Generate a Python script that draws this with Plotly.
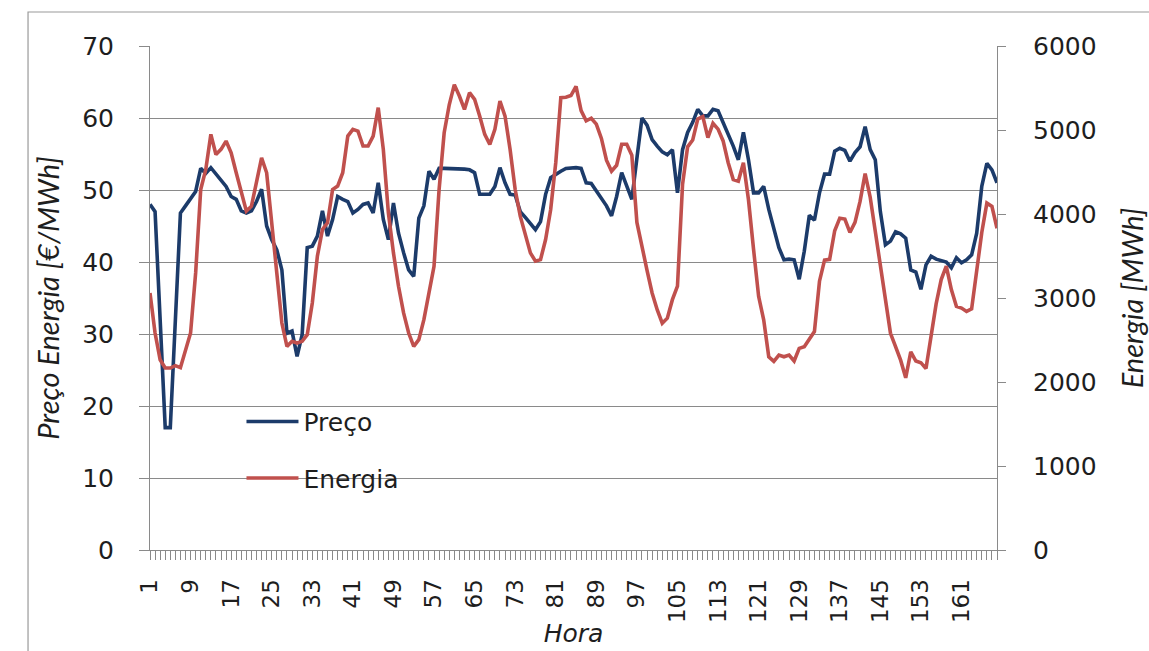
import plotly.graph_objects as go

# Hourly series for one week (168 hours)
horas = list(range(1, 169))

preco = [
    48.0, 47.0, 32.0, 17.0, 17.0, 31.0, 46.8, 47.8, 48.9, 49.8,
    53.0, 52.3, 53.1, 52.2, 51.2, 50.5, 49.1, 48.7, 47.1, 46.8,
    47.1, 48.4, 50.1, 45.0, 43.1, 41.7, 38.9, 30.1, 30.4, 26.9,
    29.9, 42.0, 42.2, 43.6, 47.1, 43.6, 45.9, 49.1, 48.7, 48.4,
    46.8, 47.3, 48.0, 48.2, 46.8, 51.0, 45.9, 43.1, 48.2, 44.0,
    41.3, 38.9, 38.0, 46.1, 47.8, 52.6, 51.5, 53.0, 53.0, 53.0,
    53.0, 52.9, 52.9, 52.8, 52.4, 49.4, 49.4, 49.4, 50.5, 53.1,
    51.0, 49.4, 49.3, 47.0, 46.2, 45.4, 44.5, 45.6, 49.4, 51.7,
    52.2, 52.6, 53.0, 53.1, 53.1, 53.0, 51.0, 50.9, 49.8, 48.9,
    47.8, 46.4, 49.1, 52.4, 50.5, 48.7, 54.4, 60.0, 59.0, 57.0,
    56.1, 55.3, 54.9, 55.6, 49.6, 55.6, 58.0, 59.4, 61.2, 60.3,
    60.3, 61.2, 61.0, 59.4, 57.7, 56.1, 54.2, 58.0, 54.2, 49.6,
    49.6, 50.5, 47.3, 44.8, 42.0, 40.3, 40.4, 40.3, 37.6, 41.5,
    46.5, 45.8, 49.6, 52.2, 52.2, 55.4, 55.8, 55.5, 54.0, 55.2,
    56.0, 58.8, 55.6, 54.2, 47.0, 42.4, 42.9, 44.2, 43.9, 43.3,
    38.9, 38.6, 36.2, 39.6, 40.8, 40.4, 40.2, 40.0, 39.2, 40.6,
    39.9, 40.3, 41.0, 44.0, 50.5, 53.7, 52.8, 51.0,
]

energia = [
    3060, 2583, 2265, 2166, 2166, 2194, 2170, 2365, 2583, 3298,
    4292, 4530, 4948, 4709, 4769, 4868, 4729, 4491, 4252, 4034,
    4093, 4371, 4669, 4491, 3855, 3298, 2702, 2424, 2484, 2464,
    2484, 2563, 2941, 3497, 3815, 3895, 4292, 4332, 4491, 4928,
    5007, 4987, 4809, 4809, 4928, 5266, 4769, 4014, 3537, 3139,
    2822, 2583, 2424, 2504, 2742, 3060, 3378, 4292, 4967, 5300,
    5540, 5404, 5245, 5444, 5365, 5166, 4948, 4828, 5007, 5345,
    5166, 4769, 4292, 3974, 3736, 3537, 3438, 3457, 3696, 4053,
    4610, 5385, 5390, 5410, 5520, 5230, 5110, 5140, 5070, 4900,
    4640, 4510, 4580, 4830, 4830, 4700, 3900, 3600, 3330, 3060,
    2860, 2700, 2760, 2980, 3140, 4350, 4800, 4880, 5130, 5160,
    4910, 5080, 5010, 4870, 4610, 4410, 4390, 4610, 4170, 3580,
    3020, 2740, 2300, 2245, 2320, 2300, 2320, 2250, 2400, 2420,
    2510, 2600, 3200, 3450, 3460, 3800, 3950, 3940, 3780, 3900,
    4150, 4480, 4200, 3800, 3350, 2950, 2580, 2420, 2260, 2050,
    2360, 2250, 2230, 2160, 2580, 2930, 3220, 3380, 3100, 2900,
    2880, 2840, 2870, 3300, 3780, 4130, 4090, 3830,
]

COR_PRECO = "#1c3b6a"
COR_ENERGIA = "#c0504d"
GRID = "#8a8a8a"
TEXTO = "#1e1e1e"

fig = go.Figure()
fig.add_trace(go.Scatter(
    x=horas, y=preco, name="Preço", mode="lines",
    line=dict(color=COR_PRECO, width=3.6),
    legendgroup="p", yaxis="y",
))
fig.add_trace(go.Scatter(
    x=horas, y=energia, name="Energia", mode="lines",
    line=dict(color=COR_ENERGIA, width=3.6),
    legendgroup="e", yaxis="y2",
))

fig.update_layout(
    width=1149, height=651,
    margin=dict(l=150, r=152, t=46, b=101),
    paper_bgcolor="white", plot_bgcolor="white",
    showlegend=True,
    legend=dict(
        x=0.108, y=0.30, xanchor="left", yanchor="top",
        bgcolor="rgba(0,0,0,0)",
        font=dict(family="DejaVu Sans", size=25, color=TEXTO),
        tracegroupgap=21, itemwidth=52,
    ),
    xaxis=dict(
        range=[1, 168], tick0=1, dtick=8, automargin=False,
        showgrid=False, zeroline=False,
        showline=True, linecolor=GRID, linewidth=1,
        ticks="outside", ticklen=9, tickcolor=GRID,
        minor=dict(dtick=1, tick0=1, ticks="outside", ticklen=9, tickcolor=GRID),
        tickangle=-90, ticklabelstandoff=10,
        tickfont=dict(family="DejaVu Sans", size=23, color=TEXTO),
        title=dict(text="<i>Hora</i>", standoff=2,
                   font=dict(family="DejaVu Sans", size=25, color=TEXTO)),
    ),
    yaxis=dict(
        range=[0, 70], dtick=10, automargin=False,
        showgrid=True, gridcolor=GRID, gridwidth=1,
        zeroline=False,
        showline=True, linecolor=GRID, linewidth=1,
        ticks="outside", ticklen=10, tickcolor=GRID,
        ticklabelstandoff=20,
        tickfont=dict(family="DejaVu Sans", size=25, color=TEXTO),
        title=dict(text="<i>Preço Energia [€/MWh]</i>", standoff=14,
                   font=dict(family="Lato", size=29, color=TEXTO)),
    ),
    yaxis2=dict(
        range=[0, 6000], dtick=1000, automargin=False,
        overlaying="y", side="right",
        showgrid=False, zeroline=False,
        showline=True, linecolor=GRID, linewidth=1,
        ticks="outside", ticklen=8, tickcolor=GRID,
        ticklabelstandoff=22,
        tickfont=dict(family="DejaVu Sans", size=25, color=TEXTO),
        title=dict(text="<i>Energia [MWh]</i>", standoff=28,
                   font=dict(family="Lato", size=29, color=TEXTO)),
    ),
    shapes=[dict(
        type="rect", xref="paper", yref="paper",
        x0=-0.144, x1=1.4, y0=-0.4, y1=1.0675,
        line=dict(color="#9a9a9a", width=1.2), layer="below",
    )],
)

fig.write_html("out.html")
